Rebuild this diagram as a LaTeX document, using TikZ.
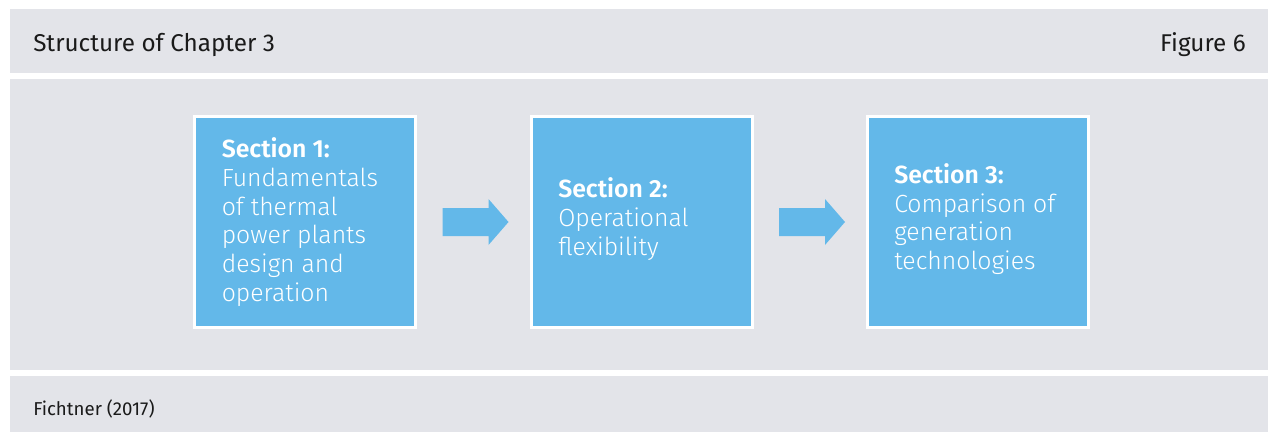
\documentclass[tikz,border=0pt]{standalone}
\usepackage{fontspec}
\setmainfont{Fira Sans}[UprightFont=* Light, BoldFont=* SemiBold]
\newfontfamily\regfont{Fira Sans}
\usetikzlibrary{calc}
\definecolor{bandgray}{HTML}{E3E4E9}
\definecolor{boxblue}{HTML}{63B8E9}
\definecolor{txtdark}{HTML}{1A1A1A}
\tikzset{
  band/.style={fill=bandgray, draw=none},
  secbox/.style={rectangle, fill=boxblue, draw=white, line width=2.25pt,
    minimum width=165.75pt, minimum height=158.25pt, inner sep=0pt},
  sectext/.style={anchor=west, align=left, inner sep=0pt, text=white,
    font=\fontsize{18.6pt}{21.5pt}\selectfont},
  flowarrow/.style={fill=boxblue, draw=none},
  headtext/.style={inner sep=0pt, text=txtdark, font=\regfont\fontsize{18.2pt}{21pt}\selectfont},
  foottext/.style={inner sep=0pt, text=txtdark, font=\regfont\fontsize{14pt}{17pt}\selectfont}
}
\begin{document}
\begin{tikzpicture}[x=0.75pt, y=-0.75pt]
\useasboundingbox (0,0) rectangle (1268,432);
\fill[white] (0,0) rectangle (1268,432);
\fill[band] (10,9) rectangle (1268,73);
\fill[band] (10,79) rectangle (1268,370);
\fill[band] (10,376) rectangle (1268,432);
\node[headtext, anchor=base west] (title) at (33,51) {Structure of Chapter 3};
\node[headtext, anchor=base east] (fig) at (1246,51) {Figure 6};
\node[foottext, anchor=base west] (src) at (33,415) {Fichtner (2017)};
\node[secbox] (box1) at (305,222) {};
\node[secbox] (box2) at (641.5,222) {};
\node[secbox] (box3) at (977.5,222) {};
\node[sectext] (t1) at ($(box1.west)+(28.5,0)$) {\textbf{Section 1:}\\Fundamentals\\of thermal\\power plants\\design and\\operation};
\node[sectext] (t2) at ($(box2.west)+(28.5,-3)$) {\textbf{Section 2:}\\Operational\\flexibility};
\node[sectext] (t3) at ($(box3.west)+(28.5,-3)$) {\textbf{Section 3:}\\Comparison of\\generation\\technologies};
\fill[flowarrow] ($(box1.east)+(25.5,-14)$) -- ++(46,0) -- ++(0,-9) -- ++(20,23) -- ++(-20,23) -- ++(0,-9) -- ++(-46,0) -- cycle;
\fill[flowarrow] ($(box2.east)+(25.5,-14)$) -- ++(46,0) -- ++(0,-9) -- ++(20,23) -- ++(-20,23) -- ++(0,-9) -- ++(-46,0) -- cycle;
\end{tikzpicture}
\end{document}
